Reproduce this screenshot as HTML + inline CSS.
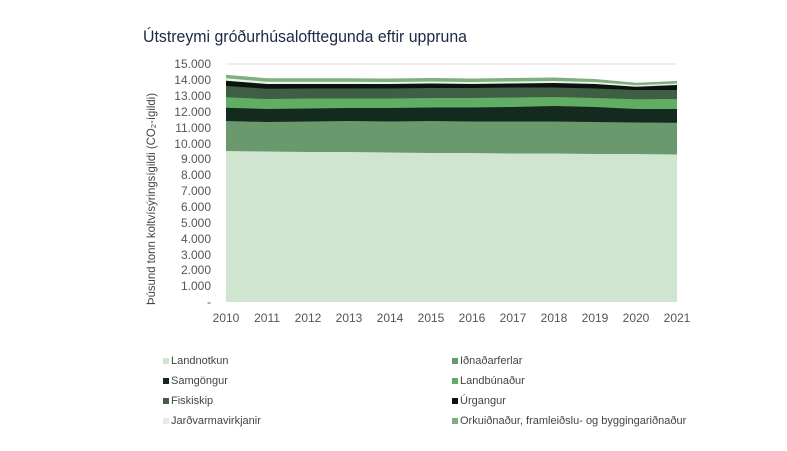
<!DOCTYPE html>
<html><head><meta charset="utf-8"><style>
body{margin:0;background:#fff;width:787px;height:446px;overflow:hidden}
text{font-family:"Liberation Sans",sans-serif}
</style></head><body>
<svg width="787" height="446" viewBox="0 0 787 446" xmlns="http://www.w3.org/2000/svg">
<text x="143" y="42" font-size="17" fill="#1a2a44" textLength="324" lengthAdjust="spacingAndGlyphs">Útstreymi gróðurhúsalofttegunda eftir uppruna</text>
<line x1="226" y1="64" x2="677" y2="64" stroke="#ddd" stroke-width="1"/>
<g>
<polygon fill="#7fae7f" points="226,74.7 267,78.3 308,78.3 349,78.3 390,78.5 431,78 472,78.5 513,78 554,77.5 595,79 636,82.7 677,81 677,302 226,302"/>
<polygon fill="#e8f3e8" points="226,78.2 267,81.8 308,81.8 349,81.8 390,82 431,81.5 472,82 513,81.5 554,81 595,82 636,85.2 677,83.5 677,302 226,302"/>
<polygon fill="#0c130f" points="226,80.7 267,84 308,84 349,84 390,84 431,83.5 472,84 513,83.5 554,83 595,84 636,86.7 677,85 677,302 226,302"/>
<polygon fill="#3f5f45" points="226,86 267,88.7 308,88.5 349,88.5 390,88.5 431,88 472,88 513,87.5 554,87.5 595,88.5 636,90 677,90 677,302 226,302"/>
<polygon fill="#62ad64" points="226,97.3 267,99 308,98.5 349,98.5 390,98.5 431,98 472,98 513,97.5 554,97 595,98 636,99.3 677,99 677,302 226,302"/>
<polygon fill="#142a1e" points="226,107.7 267,109 308,108.5 349,108 390,108 431,107.5 472,107.5 513,107 554,106 595,107 636,109 677,109 677,302 226,302"/>
<polygon fill="#69996c" points="226,121 267,122 308,121.5 349,121 390,121.5 431,121 472,121.5 513,121.5 554,121.5 595,122 636,122.5 677,122.7 677,302 226,302"/>
<polygon fill="#cfe5cf" points="226,151 267,151.5 308,152 349,152 390,152.5 431,153 472,153 513,153.5 554,153.5 595,154 636,154 677,154.5 677,302 226,302"/>
</g>
<g font-size="12" fill="#555" text-anchor="end">
<text x="211" y="68">15.000</text><text x="211" y="84">14.000</text><text x="211" y="100">13.000</text><text x="211" y="116">12.000</text><text x="211" y="132">11.000</text><text x="211" y="148">10.000</text><text x="211" y="163">9.000</text><text x="211" y="179">8.000</text><text x="211" y="195">7.000</text><text x="211" y="211">6.000</text><text x="211" y="227">5.000</text><text x="211" y="243">4.000</text><text x="211" y="259">3.000</text><text x="211" y="274">2.000</text><text x="211" y="290">1.000</text><text x="211" y="306">-</text>
</g>
<g font-size="12" fill="#555" text-anchor="middle">
<text x="226" y="322">2010</text><text x="267" y="322">2011</text><text x="308" y="322">2012</text><text x="349" y="322">2013</text><text x="390" y="322">2014</text><text x="431" y="322">2015</text><text x="472" y="322">2016</text><text x="513" y="322">2017</text><text x="554" y="322">2018</text><text x="595" y="322">2019</text><text x="636" y="322">2020</text><text x="677" y="322">2021</text>
</g>
<text transform="translate(155,305) rotate(-90)" font-size="12" fill="#444" textLength="212" lengthAdjust="spacingAndGlyphs">Þúsund tonn koltvísýringsígildi (CO₂-ígildi)</text>
<g font-size="11" fill="#444">
<rect x="163" y="358" width="6" height="6" fill="#cfe5cf"/><text x="171" y="364">Landnotkun</text>
<rect x="163" y="378" width="6" height="6" fill="#142a1e"/><text x="171" y="384">Samgöngur</text>
<rect x="163" y="398" width="6" height="6" fill="#3f5f45"/><text x="171" y="404">Fiskiskip</text>
<rect x="163" y="418" width="6" height="6" fill="#e0eee0"/><text x="171" y="424">Jarðvarmavirkjanir</text>
<rect x="452" y="358" width="6" height="6" fill="#69996c"/><text x="460" y="364">Iðnaðarferlar</text>
<rect x="452" y="378" width="6" height="6" fill="#62ad64"/><text x="460" y="384">Landbúnaður</text>
<rect x="452" y="398" width="6" height="6" fill="#0c130f"/><text x="460" y="404">Úrgangur</text>
<rect x="452" y="418" width="6" height="6" fill="#7fae7f"/><text x="460" y="424">Orkuiðnaður, framleiðslu- og byggingariðnaður</text>
</g>
</svg>
</body></html>
